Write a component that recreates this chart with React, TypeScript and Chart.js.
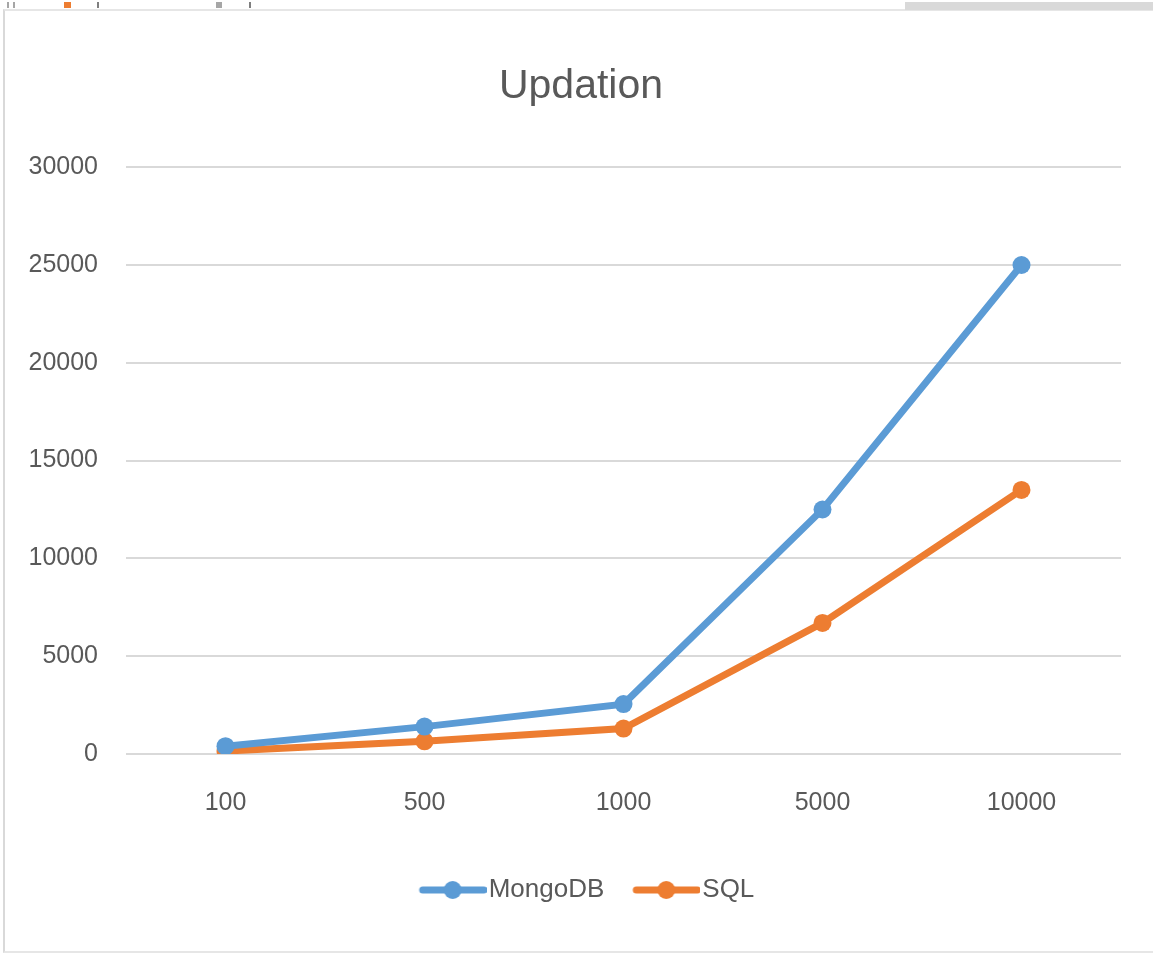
import React, { useEffect, useRef } from "react";
import { Chart, registerables } from "chart.js";

Chart.register(...registerables);

const categories = ["100", "500", "1000", "5000", "10000"];
const mongoValues = [400, 1400, 2550, 12500, 25000];
const sqlValues = [150, 650, 1300, 6700, 13500];
const yTicks = [0, 5000, 10000, 15000, 20000, 25000, 30000];

const BLUE = "#5B9BD5";
const ORANGE = "#ED7D31";
const TEXT = "#595959";
const FONT = "'Liberation Sans', Arial, sans-serif";

function legendSwatch(color: string): HTMLCanvasElement {
  const c = document.createElement("canvas");
  c.width = 90;
  c.height = 20;
  const ctx = c.getContext("2d")!;
  ctx.strokeStyle = color;
  ctx.lineWidth = 7;
  ctx.lineCap = "round";
  ctx.beginPath();
  ctx.moveTo(26, 10);
  ctx.lineTo(87, 10);
  ctx.stroke();
  ctx.fillStyle = color;
  ctx.beginPath();
  ctx.arc(56, 10, 9, 0, Math.PI * 2);
  ctx.fill();
  return c;
}

export default function App() {
  const ref = useRef<HTMLCanvasElement | null>(null);

  useEffect(() => {
    if (!ref.current) return;
    const swatches = [legendSwatch(BLUE), legendSwatch(ORANGE)];
    const chart = new Chart(ref.current, {
      type: "line",
      data: {
        labels: categories,
        datasets: [
          {
            label: "MongoDB",
            data: mongoValues,
            borderColor: BLUE,
            backgroundColor: BLUE,
            borderWidth: 7,
            pointRadius: 9,
            pointBackgroundColor: BLUE,
            pointBorderWidth: 0,
            tension: 0,
          },
          {
            label: "SQL",
            data: sqlValues,
            borderColor: ORANGE,
            backgroundColor: ORANGE,
            borderWidth: 7,
            pointRadius: 9,
            pointBackgroundColor: ORANGE,
            pointBorderWidth: 0,
            tension: 0,
          },
        ],
      },
      options: {
        animation: false,
        responsive: false,
        layout: { padding: { left: 9, right: 0, top: 0, bottom: 42 } },
        plugins: {
          title: {
            display: true,
            text: "Updation",
            color: TEXT,
            font: { family: FONT, size: 41, weight: "normal" },
            padding: { top: 62, bottom: 56 },
          },
          legend: {
            position: "bottom",
            labels: {
              color: TEXT,
              font: { family: FONT, size: 26 },
              usePointStyle: true,
              pointStyleWidth: 68,
              padding: 17,
              generateLabels: (ch: any) =>
                ch.data.datasets.map((ds: any, i: number) => ({
                  text: ds.label,
                  pointStyle: swatches[i],
                  fillStyle: ds.borderColor,
                  strokeStyle: ds.borderColor,
                  lineWidth: 0,
                  hidden: false,
                  datasetIndex: i,
                  fontColor: TEXT,
                })),
            },
          },
          tooltip: { enabled: false },
        },
        scales: {
          x: {
            offset: true,
            grid: { display: false, drawTicks: false },
            border: { display: false },
            ticks: {
              color: TEXT,
              font: { family: FONT, size: 25 },
              padding: 34,
              maxRotation: 0,
            },
            afterFit: (s: any) => {
              s.height = 106;
            },
          },
          y: {
            min: 0,
            max: 30000,
            afterBuildTicks: (s: any) => {
              s.ticks = yTicks.map((v) => ({ value: v }));
            },
            grid: { color: "#d9d9d9", lineWidth: 2, drawTicks: false },
            border: { display: false },
            ticks: {
              color: TEXT,
              font: { family: FONT, size: 25 },
              padding: 28,
              callback: (v: any) => String(v),
            },
            afterFit: (s: any) => {
              s.width = 117;
            },
          },
          yRight: {
            type: "linear",
            position: "right",
            display: true,
            grid: { display: false, drawTicks: false },
            border: { display: false },
            ticks: { display: false },
            afterFit: (s: any) => {
              s.width = 32;
            },
          },
        },
      },
    });
    return () => chart.destroy();
  }, []);

  const mark = (left: number, width: number, color: string) => (
    <div
      style={{
        position: "absolute",
        left,
        top: 2,
        width,
        height: 6,
        background: color,
      }}
    />
  );

  return (
    <div
      style={{
        position: "fixed",
        left: 0,
        top: 0,
        width: 1153,
        height: 955,
        background: "#ffffff",
        overflow: "hidden",
      }}
    >
      <div
        style={{
          position: "absolute",
          left: 3,
          top: 9,
          width: 1150,
          height: 944,
          borderLeft: "2px solid #d9d9d9",
          borderTop: "2px solid #e6e6e6",
          borderBottom: "2px solid #e6e6e6",
          boxSizing: "border-box",
        }}
      />
      <div
        style={{
          position: "absolute",
          left: 905,
          top: 2,
          width: 248,
          height: 8,
          background: "#d9d9d9",
        }}
      />
      {mark(7, 2, "#a6a6a6")}
      {mark(13, 2, "#a6a6a6")}
      {mark(64, 7, ORANGE)}
      {mark(97, 2, "#7f7f7f")}
      {mark(216, 6, "#a6a6a6")}
      {mark(249, 2, "#7f7f7f")}
      <canvas
        ref={ref}
        width={1153}
        height={955}
        style={{ position: "absolute", left: 0, top: 0 }}
      />
    </div>
  );
}
